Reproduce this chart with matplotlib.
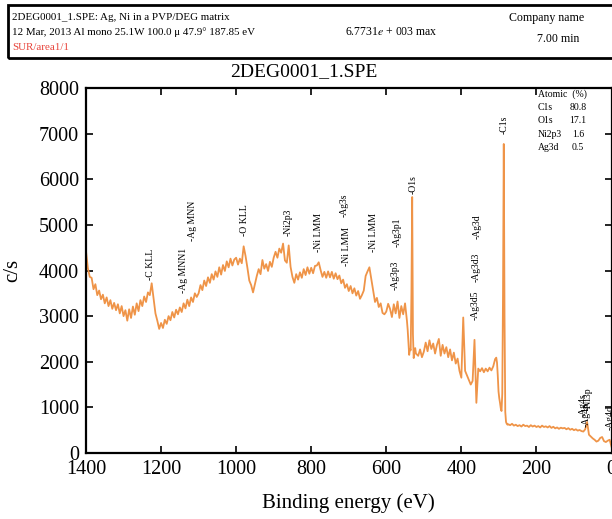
import numpy as np
import matplotlib
matplotlib.use("Agg")
import matplotlib.pyplot as plt
from matplotlib.patches import Rectangle

plt.rcParams["font.family"] = ["Liberation Serif", "DejaVu Serif"]
plt.rcParams["mathtext.fontset"] = "stix"

# ---- XPS survey spectrum (binding energy in eV, intensity in c/s) ----
# Segment A: 1400 -> 545 eV, 5 eV steps
seg_a_be = np.arange(1400, 544, -5)
seg_a_cps = [
    4420, 4050, 3860, 3840, 3590, 3700, 3460, 3560, 3370, 3470,
    3280, 3410, 3220, 3350, 3160, 3290, 3130, 3260, 3060, 3220,
    3000, 3130, 2900, 3150, 2960, 3210, 3030, 3280, 3110, 3350,
    3220, 3430, 3310, 3520, 3460, 3720, 3380, 3060, 2900, 2720,
    2850, 2740, 2920, 2830, 3000, 2910, 3090, 2970, 3140, 3040,
    3190, 3090, 3280, 3170, 3360, 3220, 3410, 3310, 3500, 3420,
    3500, 3680, 3570, 3780, 3660, 3850, 3730, 3920, 3800, 3980,
    3860, 4070, 3910, 4120, 3990, 4200, 4070, 4260, 4110, 4240,
    4280, 4130, 4260, 4160, 4530, 4320, 4060, 3780, 3680, 3520,
    3700, 3880, 4030, 3920, 4230, 4040, 4140, 3990, 4190, 4080,
    4280, 4410, 4280, 4480, 4390, 4590, 4220, 4170, 4550, 4080,
    3860, 3730, 3920, 3800, 3960, 3840, 4030, 3900, 4070, 3930,
    4060, 3940, 4100, 4110, 4180, 4010, 3860, 3970, 3840, 3980,
    3850, 3970, 3820, 3940, 3810, 3890, 3720, 3800, 3620, 3700,
    3550, 3660, 3500, 3610, 3450, 3550, 3380, 3460, 3560, 3880,
    3980, 4070, 3820, 3560, 3310, 3400, 3200, 3280, 3070, 3040,
    3100, 3270, 3160, 2980, 3260, 3060, 3320, 2960, 3220, 3040, 3280, 2900,
]

# Segment B: O1s region, 543 -> 521 eV, 2 eV steps
seg_b_be = np.arange(543, 520, -2)
seg_b_cps = [2700, 2420, 2150, 2280, 2250, 3500, 5610, 2600, 2080, 2200, 2300, 2180]

# Segment C: 515 -> 310 eV, 5 eV steps (Ag3d region)
seg_c_be = np.arange(515, 309, -5)
seg_c_cps = [
    2130, 2270, 2100, 2220, 2420, 2230, 2470, 2280, 2400, 2180,
    2370, 2500, 2130, 2370, 2180, 2320, 2100, 2270, 2030, 2200,
    1960, 2070, 1800, 1650, 2970, 1800, 1700, 1600, 1500, 1580,
    2480, 1100, 1850, 1790, 1860, 1770, 1850, 1790, 1870, 1810,
    1900, 2060,
]

# Segment D: C1s region, 309 -> 277 eV, 2 eV steps
seg_d_be = np.arange(309, 276, -2)
seg_d_cps = [2060, 2090, 1980, 1700, 1350, 1200, 1100, 980, 920, 1300,
             3500, 6773, 3000, 900, 680, 640, 620]

# Segment E: 275 -> 0 eV, 5 eV steps
seg_e_be = np.arange(275, -1, -5)
seg_e_cps = [
    630, 610, 640, 600, 620, 590, 610, 580, 620, 590,
    600, 570, 610, 580, 600, 570, 590, 560, 600, 570,
    585, 560, 590, 550, 575, 540, 560, 530, 555, 540,
    550, 520, 545, 510, 530, 500, 520, 490, 505, 480,
    470, 520, 680, 400, 360, 320, 290, 250, 270, 330,
    350, 260, 240, 270, 290, 140,
]

energy = np.concatenate([seg_a_be, seg_b_be, seg_c_be, seg_d_be, seg_e_be])
counts = np.concatenate([seg_a_cps, seg_b_cps, seg_c_cps, seg_d_cps, seg_e_cps])

# Peak annotations: (text, binding energy, c/s at the foot of the label)
peak_names = ["-C KLL", "-Ag MNN1", "-Ag MNN", "-O KLL", "-Ni2p3", "-Ni LMM",
              "-Ni LMM", "-Ag3s", "-Ni LMM", "-Ag3p3", "-Ag3p1", "-O1s",
              "-Ag3d5", "-Ag3d3", "-Ag3d", "-C1s", "-Ag4s", "-Ag4p", "-Ni3p",
              "-Ag4d"]
peak_be = [1227, 1139, 1117, 979, 861, 781, 707, 713, 635, 576, 571, 528,
           363, 360, 358, 285, 76, 67, 62, 3]
peak_y = [3800, 3516, 4637, 4747, 4747, 4396, 4088, 5165, 4396, 3582, 4505,
          5670, 2923, 3758, 4681, 6989, 791, 571, 945, 505]

# Atomic concentration table
atomic_names = ["C1s", "O1s", "Ni2p3", "Ag3d"]
atomic_pct = ["80.8", "17.1", "1.6", "0.5"]

W, H = 612, 519
fig = plt.figure(figsize=(W / 100, H / 100), dpi=100)


def fx(px):
    return px / W


def fy(py):
    return 1 - py / H


# Header box
fig.patches.append(Rectangle((fx(8), fy(58)), 1.0, fy(5) - fy(58),
                             transform=fig.transFigure, fill=False,
                             edgecolor="black", linewidth=2.0, clip_on=False))
hdr_fs = 7.9
fig.text(fx(12), fy(17), "2DEG0001_1.SPE: Ag, Ni in a PVP/DEG matrix",
         fontsize=hdr_fs, va="center", ha="left")
fig.text(fx(12), fy(32), "12 Mar, 2013 Al mono 25.1W 100.0 μ 47.9° 187.85 eV",
         fontsize=hdr_fs, va="center", ha="left")
fig.text(fx(12), fy(47), "SUR/area1/1", fontsize=hdr_fs, va="center",
         ha="left", color="#E8453C")
fig.text(fx(345), fy(32), r"6.7731$e$ + 003 max", fontsize=8.5,
         va="center", ha="left")
fig.text(fx(547), fy(18), "Company name", fontsize=8.6, va="center",
         ha="center")
fig.text(fx(558), fy(39), "7.00 min", fontsize=8.6, va="center",
         ha="center")

# Spectrum axes
ax = fig.add_axes([fx(86), fy(453), fx(611.5) - fx(86), fy(88) - fy(453)])
ax.plot(energy, counts, color="#EF9448", linewidth=1.3)
ax.set_xlim(1400, 0)
ax.set_ylim(0, 8000)
ax.set_xticks(np.arange(1400, -1, -200))
ax.set_yticks(np.arange(0, 8001, 1000))
ax.tick_params(direction="in", top=True, right=True, length=5, width=1.2,
               labelsize=14.5, pad=5)
for s in ax.spines.values():
    s.set_linewidth(1.6)

fig.text(fx(304), fy(72), "2DEG0001_1.SPE", fontsize=14, ha="center",
         va="center")
ax.set_xlabel("Binding energy (eV)", fontsize=15, labelpad=10)
ax.set_ylabel("c/s", fontsize=15, labelpad=12)

for name, be, yv in zip(peak_names, peak_be, peak_y):
    ax.text(be, yv, name, rotation=90, ha="center", va="bottom",
            fontsize=7, clip_on=False)

# Atomic concentration table
tab_fs = 7
fig.text(fx(538), fy(94), "Atomic  (%)", fontsize=tab_fs, va="center",
         ha="left")
for i, (nm, pc) in enumerate(zip(atomic_names, atomic_pct)):
    yy = 107.5 + 13.3 * i
    fig.text(fx(538), fy(yy), nm, fontsize=tab_fs, va="center", ha="left")
    fig.text(fx(578), fy(yy), pc, fontsize=tab_fs, va="center", ha="center")

fig.savefig("out.png", dpi=100)
